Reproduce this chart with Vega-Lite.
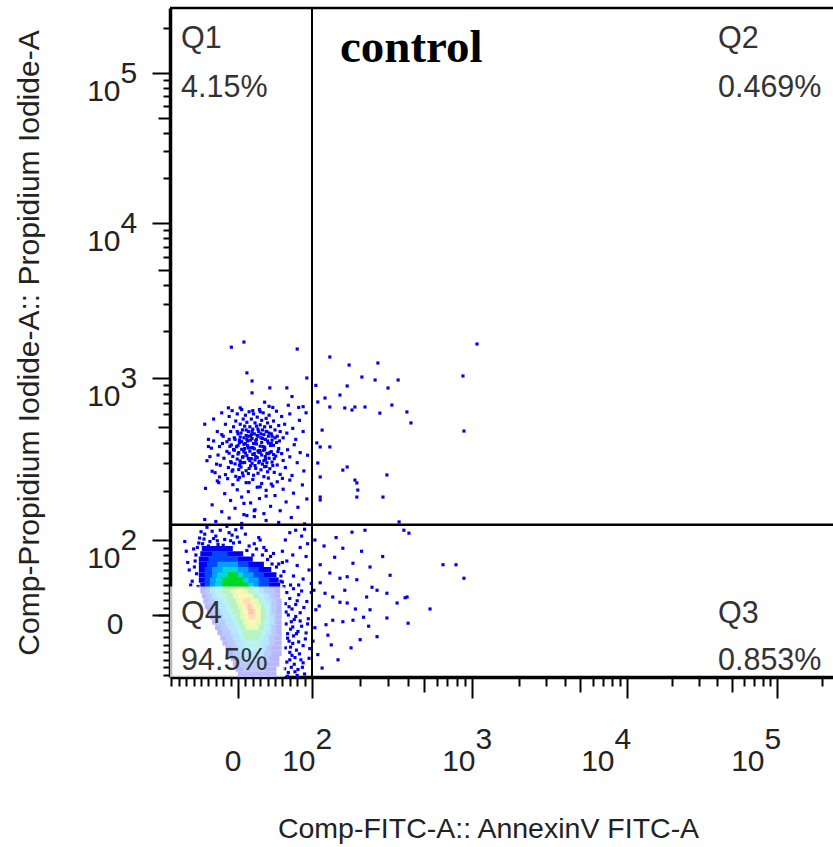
{
  "$schema": "https://vega.github.io/schema/vega-lite/v6.json",
  "width": 663,
  "height": 669,
  "autosize": {"type": "none"},
  "padding": {"left": 170, "top": 8, "right": 0, "bottom": 170},
  "background": "white",
  "config": {
    "view": {"stroke": null},
    "font": "Liberation Sans",
    "axis": {
      "labelFont": "Liberation Sans",
      "labelFontSize": 30,
      "labelColor": "#222222",
      "tickColor": "black",
      "tickWidth": 2,
      "grid": false,
      "domain": false,
      "labelOverlap": false,
      "labelFlush": false,
      "labelBound": false,
      "tickCount": 200,
      "zindex": 1,
      "titleFont": "Liberation Sans",
      "titleFontWeight": "normal",
      "titleColor": "#222222"
    }
  },
  "resolve": {"axis": {"x": "independent", "y": "independent"}},
  "datasets": {
    "cells": [
      {"x": -49, "x2": -7, "y": 85, "y2": 92, "d": 1},
      {"x": -51, "x2": 7, "y": 78, "y2": 85, "d": 1},
      {"x": -53, "x2": 20, "y": 71, "y2": 78, "d": 1},
      {"x": -53, "x2": 35, "y": 64, "y2": 71, "d": 1},
      {"x": -53, "x2": 45, "y": 57, "y2": 64, "d": 1},
      {"x": -53, "x2": 52, "y": 50, "y2": 57, "d": 1},
      {"x": -53, "x2": 55, "y": 43, "y2": 50, "d": 1},
      {"x": -51, "x2": 57, "y": 36, "y2": 43, "d": 1},
      {"x": -51, "x2": 57, "y": 29, "y2": 36, "d": 1},
      {"x": -49, "x2": 57, "y": 22, "y2": 29, "d": 1},
      {"x": -47, "x2": 59, "y": 15, "y2": 22, "d": 1},
      {"x": -45, "x2": 59, "y": 8, "y2": 15, "d": 1},
      {"x": -42, "x2": 59, "y": 1, "y2": 8, "d": 1},
      {"x": -38, "x2": 59, "y": -6, "y2": 1, "d": 1},
      {"x": -35, "x2": 59, "y": -13, "y2": -6, "d": 1},
      {"x": -31, "x2": 59, "y": -20, "y2": -13, "d": 1},
      {"x": -28, "x2": 59, "y": -27, "y2": -20, "d": 1},
      {"x": -24, "x2": 59, "y": -34, "y2": -27, "d": 1},
      {"x": -21, "x2": 59, "y": -41, "y2": -34, "d": 1},
      {"x": -17, "x2": 59, "y": -48, "y2": -41, "d": 1},
      {"x": -14, "x2": 59, "y": -55, "y2": -48, "d": 1},
      {"x": -10, "x2": 56, "y": -62, "y2": -55, "d": 1},
      {"x": -7, "x2": 56, "y": -69, "y2": -62, "d": 1},
      {"x": -3, "x2": 52, "y": -76, "y2": -69, "d": 1},
      {"x": 0, "x2": 52, "y": -83, "y2": -76, "d": 1},
      {"x": -35, "x2": -14, "y": 78, "y2": 85, "d": 2},
      {"x": -40, "x2": 0, "y": 71, "y2": 78, "d": 2},
      {"x": -42, "x2": 14, "y": 64, "y2": 71, "d": 2},
      {"x": -45, "x2": 28, "y": 57, "y2": 64, "d": 2},
      {"x": -45, "x2": 35, "y": 50, "y2": 57, "d": 2},
      {"x": -45, "x2": 42, "y": 43, "y2": 50, "d": 2},
      {"x": -45, "x2": 42, "y": 36, "y2": 43, "d": 2},
      {"x": -45, "x2": 49, "y": 29, "y2": 36, "d": 2},
      {"x": -42, "x2": 49, "y": 22, "y2": 29, "d": 2},
      {"x": -40, "x2": 52, "y": 15, "y2": 22, "d": 2},
      {"x": -38, "x2": 52, "y": 8, "y2": 15, "d": 2},
      {"x": -35, "x2": 52, "y": 1, "y2": 8, "d": 2},
      {"x": -31, "x2": 52, "y": -6, "y2": 1, "d": 2},
      {"x": -28, "x2": 52, "y": -13, "y2": -6, "d": 2},
      {"x": -24, "x2": 52, "y": -20, "y2": -13, "d": 2},
      {"x": -21, "x2": 52, "y": -27, "y2": -20, "d": 2},
      {"x": -17, "x2": 49, "y": -34, "y2": -27, "d": 2},
      {"x": -14, "x2": 49, "y": -41, "y2": -34, "d": 2},
      {"x": -10, "x2": 45, "y": -48, "y2": -41, "d": 2},
      {"x": -7, "x2": 45, "y": -55, "y2": -48, "d": 2},
      {"x": -3, "x2": 42, "y": -62, "y2": -55, "d": 2},
      {"x": 0, "x2": 38, "y": -69, "y2": -62, "d": 2},
      {"x": 7, "x2": 35, "y": -76, "y2": -69, "d": 2},
      {"x": -28, "x2": 0, "y": 64, "y2": 71, "d": 3},
      {"x": -35, "x2": 14, "y": 57, "y2": 64, "d": 3},
      {"x": -35, "x2": 21, "y": 50, "y2": 57, "d": 3},
      {"x": -38, "x2": 28, "y": 43, "y2": 50, "d": 3},
      {"x": -38, "x2": 28, "y": 36, "y2": 43, "d": 3},
      {"x": -38, "x2": 35, "y": 29, "y2": 36, "d": 3},
      {"x": -35, "x2": 42, "y": 22, "y2": 29, "d": 3},
      {"x": -31, "x2": 45, "y": 15, "y2": 22, "d": 3},
      {"x": -28, "x2": 45, "y": 8, "y2": 15, "d": 3},
      {"x": -24, "x2": 45, "y": 1, "y2": 8, "d": 3},
      {"x": -21, "x2": 49, "y": -6, "y2": 1, "d": 3},
      {"x": -17, "x2": 49, "y": -13, "y2": -6, "d": 3},
      {"x": -14, "x2": 45, "y": -20, "y2": -13, "d": 3},
      {"x": -10, "x2": 45, "y": -27, "y2": -20, "d": 3},
      {"x": -7, "x2": 42, "y": -34, "y2": -27, "d": 3},
      {"x": -3, "x2": 42, "y": -41, "y2": -34, "d": 3},
      {"x": 0, "x2": 38, "y": -48, "y2": -41, "d": 3},
      {"x": 3, "x2": 35, "y": -55, "y2": -48, "d": 3},
      {"x": 7, "x2": 31, "y": -62, "y2": -55, "d": 3},
      {"x": -21, "x2": 0, "y": 57, "y2": 64, "d": 4},
      {"x": -28, "x2": 7, "y": 50, "y2": 57, "d": 4},
      {"x": -30, "x2": 14, "y": 43, "y2": 50, "d": 4},
      {"x": -31, "x2": 21, "y": 36, "y2": 43, "d": 4},
      {"x": -31, "x2": 28, "y": 29, "y2": 36, "d": 4},
      {"x": -28, "x2": 35, "y": 22, "y2": 29, "d": 4},
      {"x": -21, "x2": 38, "y": 15, "y2": 22, "d": 4},
      {"x": -17, "x2": 42, "y": 8, "y2": 15, "d": 4},
      {"x": -14, "x2": 42, "y": 1, "y2": 8, "d": 4},
      {"x": -10, "x2": 42, "y": -6, "y2": 1, "d": 4},
      {"x": -7, "x2": 42, "y": -13, "y2": -6, "d": 4},
      {"x": -3, "x2": 42, "y": -20, "y2": -13, "d": 4},
      {"x": 0, "x2": 38, "y": -27, "y2": -20, "d": 4},
      {"x": 3, "x2": 35, "y": -34, "y2": -27, "d": 4},
      {"x": 7, "x2": 31, "y": -41, "y2": -34, "d": 4},
      {"x": 10, "x2": 28, "y": -48, "y2": -41, "d": 4},
      {"x": -14, "x2": 0, "y": 50, "y2": 57, "d": 5},
      {"x": -21, "x2": 7, "y": 43, "y2": 50, "d": 5},
      {"x": -21, "x2": 14, "y": 36, "y2": 43, "d": 5},
      {"x": -21, "x2": 21, "y": 29, "y2": 36, "d": 5},
      {"x": -17, "x2": 28, "y": 22, "y2": 29, "d": 5},
      {"x": -14, "x2": 31, "y": 15, "y2": 22, "d": 5},
      {"x": -10, "x2": 35, "y": 8, "y2": 15, "d": 5},
      {"x": -7, "x2": 38, "y": 1, "y2": 8, "d": 5},
      {"x": -3, "x2": 38, "y": -6, "y2": 1, "d": 5},
      {"x": 0, "x2": 35, "y": -13, "y2": -6, "d": 5},
      {"x": 3, "x2": 35, "y": -20, "y2": -13, "d": 5},
      {"x": 7, "x2": 31, "y": -27, "y2": -20, "d": 5},
      {"x": 10, "x2": 28, "y": -34, "y2": -27, "d": 5},
      {"x": -10, "x2": 14, "y": 29, "y2": 36, "d": 6},
      {"x": -7, "x2": 21, "y": 22, "y2": 29, "d": 6},
      {"x": -3, "x2": 28, "y": 15, "y2": 22, "d": 6},
      {"x": 0, "x2": 31, "y": 8, "y2": 15, "d": 6},
      {"x": 3, "x2": 31, "y": 1, "y2": 8, "d": 6},
      {"x": 3, "x2": 31, "y": -6, "y2": 1, "d": 6},
      {"x": 7, "x2": 31, "y": -13, "y2": -6, "d": 6},
      {"x": 10, "x2": 28, "y": -20, "y2": -13, "d": 6},
      {"x": -3, "x2": 7, "y": 29, "y2": 36, "d": 7},
      {"x": 0, "x2": 14, "y": 22, "y2": 29, "d": 7},
      {"x": 3, "x2": 21, "y": 15, "y2": 22, "d": 7},
      {"x": 7, "x2": 24, "y": 8, "y2": 15, "d": 7},
      {"x": 7, "x2": 28, "y": 1, "y2": 8, "d": 7},
      {"x": 10, "x2": 28, "y": -6, "y2": 1, "d": 7},
      {"x": 14, "x2": 24, "y": -13, "y2": -6, "d": 7},
      {"x": 7, "x2": 17, "y": 15, "y2": 22, "d": 8},
      {"x": 10, "x2": 21, "y": 8, "y2": 15, "d": 8},
      {"x": 14, "x2": 24, "y": 1, "y2": 8, "d": 8},
      {"x": 14, "x2": 24, "y": -6, "y2": 1, "d": 8},
      {"x": 14, "x2": 17, "y": 8, "y2": 15, "d": 9},
      {"x": 14, "x2": 21, "y": 1, "y2": 8, "d": 9}
    ],
    "events": [
      {"x": -9, "y": 1660}, {"x": 8, "y": 1770}, {"x": 80, "y": 1620}, {"x": 93, "y": 1000}, {"x": 12, "y": 1110},
      {"x": 19, "y": 960}, {"x": 19, "y": 810}, {"x": 43, "y": 870}, {"x": 66, "y": 870}, {"x": 73, "y": 770},
      {"x": 36, "y": 710}, {"x": 42, "y": 670}, {"x": 68, "y": 680}, {"x": 82, "y": 660}, {"x": -13, "y": 656},
      {"x": 3, "y": 656}, {"x": 20, "y": 630}, {"x": 30, "y": 620}, {"x": 47, "y": 660}, {"x": 88, "y": 667},
      {"x": -40, "y": 420}, {"x": -33, "y": 560}, {"x": -28, "y": 470}, {"x": -22, "y": 610}, {"x": -20, "y": 440},
      {"x": -17, "y": 520}, {"x": -15, "y": 405}, {"x": -12, "y": 580}, {"x": -10, "y": 470}, {"x": -8, "y": 630},
      {"x": -6, "y": 500}, {"x": -5, "y": 430}, {"x": -3, "y": 545}, {"x": -1, "y": 600}, {"x": 0, "y": 455},
      {"x": 2, "y": 415}, {"x": 3, "y": 520}, {"x": 5, "y": 640}, {"x": 6, "y": 480}, {"x": 7, "y": 560},
      {"x": 8, "y": 430}, {"x": 9, "y": 505}, {"x": 10, "y": 590}, {"x": 11, "y": 445}, {"x": 12, "y": 535},
      {"x": 13, "y": 410}, {"x": 14, "y": 470}, {"x": 15, "y": 620}, {"x": 16, "y": 500}, {"x": 17, "y": 440},
      {"x": 18, "y": 560}, {"x": 19, "y": 425}, {"x": 20, "y": 485}, {"x": 21, "y": 600}, {"x": 22, "y": 455},
      {"x": 23, "y": 530}, {"x": 24, "y": 410}, {"x": 25, "y": 505}, {"x": 26, "y": 575}, {"x": 27, "y": 440},
      {"x": 28, "y": 470}, {"x": 29, "y": 640}, {"x": 30, "y": 515}, {"x": 31, "y": 430}, {"x": 32, "y": 550},
      {"x": 33, "y": 480}, {"x": 34, "y": 610}, {"x": 35, "y": 450}, {"x": 36, "y": 500}, {"x": 37, "y": 420},
      {"x": 38, "y": 565}, {"x": 39, "y": 470}, {"x": 40, "y": 530}, {"x": 41, "y": 440}, {"x": 42, "y": 590},
      {"x": 44, "y": 500}, {"x": 45, "y": 455}, {"x": 46, "y": 415}, {"x": 48, "y": 545}, {"x": 50, "y": 480},
      {"x": 52, "y": 625}, {"x": 53, "y": 440}, {"x": 55, "y": 510}, {"x": 57, "y": 470}, {"x": 59, "y": 580},
      {"x": 61, "y": 430}, {"x": 63, "y": 520}, {"x": 66, "y": 460}, {"x": 70, "y": 600}, {"x": 74, "y": 490},
      {"x": 78, "y": 420}, {"x": 83, "y": 550}, {"x": 88, "y": 470}, {"x": 92, "y": 610}, {"x": -45, "y": 520},
      {"x": -42, "y": 310}, {"x": -36, "y": 372}, {"x": -31, "y": 265}, {"x": -27, "y": 338}, {"x": -24, "y": 291},
      {"x": -21, "y": 395}, {"x": -19, "y": 322}, {"x": -17, "y": 258}, {"x": -15, "y": 356}, {"x": -13, "y": 283},
      {"x": -12, "y": 347}, {"x": -10, "y": 305}, {"x": -9, "y": 388}, {"x": -8, "y": 270}, {"x": -7, "y": 331},
      {"x": -5, "y": 362}, {"x": -4, "y": 296}, {"x": -3, "y": 252}, {"x": -2, "y": 379}, {"x": -1, "y": 318},
      {"x": 0, "y": 343}, {"x": 1, "y": 276}, {"x": 2, "y": 399}, {"x": 3, "y": 309}, {"x": 4, "y": 285},
      {"x": 5, "y": 366}, {"x": 6, "y": 327}, {"x": 7, "y": 254}, {"x": 8, "y": 391}, {"x": 9, "y": 301},
      {"x": 10, "y": 348}, {"x": 11, "y": 272}, {"x": 12, "y": 335}, {"x": 13, "y": 384}, {"x": 14, "y": 262},
      {"x": 15, "y": 319}, {"x": 16, "y": 357}, {"x": 17, "y": 289}, {"x": 18, "y": 374}, {"x": 19, "y": 298},
      {"x": 20, "y": 341}, {"x": 21, "y": 256}, {"x": 22, "y": 369}, {"x": 23, "y": 314}, {"x": 24, "y": 280},
      {"x": 25, "y": 393}, {"x": 26, "y": 326}, {"x": 27, "y": 263}, {"x": 28, "y": 352}, {"x": 29, "y": 307},
      {"x": 30, "y": 382}, {"x": 31, "y": 275}, {"x": 32, "y": 338}, {"x": 33, "y": 295}, {"x": 34, "y": 361},
      {"x": 35, "y": 251}, {"x": 36, "y": 376}, {"x": 37, "y": 316}, {"x": 38, "y": 287}, {"x": 39, "y": 346},
      {"x": 40, "y": 268}, {"x": 41, "y": 397}, {"x": 42, "y": 322}, {"x": 43, "y": 279}, {"x": 45, "y": 355},
      {"x": 46, "y": 303}, {"x": 48, "y": 386}, {"x": 49, "y": 266}, {"x": 51, "y": 333}, {"x": 53, "y": 292},
      {"x": 55, "y": 370}, {"x": 57, "y": 259}, {"x": 59, "y": 345}, {"x": 61, "y": 311}, {"x": 64, "y": 283},
      {"x": 67, "y": 364}, {"x": 70, "y": 329}, {"x": 73, "y": 255}, {"x": 76, "y": 389}, {"x": 80, "y": 300},
      {"x": 84, "y": 350}, {"x": 89, "y": 271}, {"x": 94, "y": 337}, {"x": -11, "y": 381}, {"x": 6, "y": 264},
      {"x": 18, "y": 320}, {"x": 27, "y": 358}, {"x": 36, "y": 286}, {"x": 14, "y": 373}, {"x": 3, "y": 299},
      {"x": -9, "y": 300}, {"x": -4, "y": 420}, {"x": 1, "y": 350}, {"x": 4, "y": 460}, {"x": 7, "y": 330},
      {"x": 10, "y": 395}, {"x": 13, "y": 440}, {"x": 16, "y": 310}, {"x": 19, "y": 470}, {"x": 22, "y": 345},
      {"x": 25, "y": 420}, {"x": 28, "y": 300}, {"x": 31, "y": 455}, {"x": 34, "y": 380}, {"x": 37, "y": 330},
      {"x": 40, "y": 410}, {"x": 43, "y": 350}, {"x": 46, "y": 440}, {"x": 49, "y": 320}, {"x": 52, "y": 400},
      {"x": -6, "y": 365}, {"x": -1, "y": 470}, {"x": 2, "y": 290}, {"x": 5, "y": 405}, {"x": 8, "y": 355},
      {"x": 11, "y": 480}, {"x": 14, "y": 320}, {"x": 17, "y": 415}, {"x": 20, "y": 375}, {"x": 23, "y": 290},
      {"x": 26, "y": 445}, {"x": 29, "y": 360}, {"x": 32, "y": 400}, {"x": 35, "y": 310}, {"x": 38, "y": 470},
      {"x": 41, "y": 345}, {"x": 44, "y": 385}, {"x": 47, "y": 290}, {"x": 50, "y": 430}, {"x": 54, "y": 355},
      {"x": -12, "y": 420}, {"x": -7, "y": 275}, {"x": 0, "y": 385}, {"x": 3, "y": 435}, {"x": 6, "y": 300},
      {"x": 9, "y": 370}, {"x": 12, "y": 420}, {"x": 15, "y": 280}, {"x": 18, "y": 450}, {"x": 21, "y": 395},
      {"x": 24, "y": 330}, {"x": 27, "y": 485}, {"x": 30, "y": 350}, {"x": 33, "y": 425}, {"x": 36, "y": 365},
      {"x": 39, "y": 300}, {"x": 42, "y": 460}, {"x": 45, "y": 395}, {"x": 48, "y": 340}, {"x": 56, "y": 410},
      {"x": -38, "y": 330}, {"x": -33, "y": 410}, {"x": -29, "y": 295}, {"x": -25, "y": 380}, {"x": -22, "y": 450},
      {"x": -35, "y": 270}, {"x": -26, "y": 230}, {"x": -40, "y": 380},
      {"x": -44, "y": 210}, {"x": -35, "y": 172}, {"x": -28, "y": 236}, {"x": -22, "y": 158}, {"x": -18, "y": 195},
      {"x": -14, "y": 244}, {"x": -10, "y": 181}, {"x": -7, "y": 223}, {"x": -4, "y": 165}, {"x": -1, "y": 205},
      {"x": 2, "y": 248}, {"x": 5, "y": 188}, {"x": 8, "y": 152}, {"x": 11, "y": 230}, {"x": 14, "y": 199},
      {"x": 17, "y": 176}, {"x": 20, "y": 241}, {"x": 23, "y": 162}, {"x": 26, "y": 214}, {"x": 29, "y": 185},
      {"x": 32, "y": 227}, {"x": 35, "y": 154}, {"x": 38, "y": 203}, {"x": 41, "y": 246}, {"x": 44, "y": 169},
      {"x": 47, "y": 218}, {"x": 50, "y": 191}, {"x": 53, "y": 233}, {"x": 57, "y": 160}, {"x": 61, "y": 207},
      {"x": 65, "y": 178}, {"x": 70, "y": 239}, {"x": 75, "y": 196}, {"x": 81, "y": 167}, {"x": 87, "y": 222},
      {"x": 93, "y": 184}, {"x": -25, "y": 250}, {"x": 0, "y": 240}, {"x": 15, "y": 230}, {"x": 30, "y": 215},
      {"x": 45, "y": 225}, {"x": 60, "y": 245}, {"x": 8, "y": 175}, {"x": 22, "y": 160}, {"x": 38, "y": 190},
      {"x": -30, "y": 138}, {"x": -12, "y": 145}, {"x": 5, "y": 134}, {"x": 22, "y": 148}, {"x": 38, "y": 140},
      {"x": 55, "y": 136}, {"x": 72, "y": 146}, {"x": 90, "y": 133}, {"x": -45, "y": 142}, {"x": 12, "y": 150},
      {"x": 137, "y": 1450}, {"x": 177, "y": 1278}, {"x": 263, "y": 1321}, {"x": 206, "y": 1021}, {"x": 253, "y": 973},
      {"x": 349, "y": 973}, {"x": 173, "y": 893}, {"x": 299, "y": 869}, {"x": 318, "y": 682}, {"x": 112, "y": 712},
      {"x": 127, "y": 754}, {"x": 137, "y": 664}, {"x": 168, "y": 655}, {"x": 189, "y": 664}, {"x": 217, "y": 664},
      {"x": 270, "y": 607}, {"x": 1107, "y": 1728}, {"x": 879, "y": 1043}, {"x": 891, "y": 473}, {"x": 417, "y": 530},
      {"x": 393, "y": 618}, {"x": 189, "y": 239}, {"x": 195, "y": 204}, {"x": 164, "y": 274}, {"x": 117, "y": 378},
      {"x": 112, "y": 299}, {"x": 117, "y": 182}, {"x": 354, "y": 137}, {"x": 117, "y": 250}, {"x": 117, "y": 188},
      {"x": 173, "y": 285}, {"x": 193, "y": 229}, {"x": 193, "y": 188}, {"x": 281, "y": 188}, {"x": 295, "y": 257},
      {"x": 110, "y": 398}, {"x": 137, "y": 378}, {"x": 158, "y": 786}, {"x": 183, "y": 636}, {"x": 108, "y": 900},
      {"x": 121, "y": 479},
      {"x": 183, "y": 116}, {"x": 217, "y": 120}, {"x": 404, "y": 114}, {"x": 164, "y": 89}, {"x": 147, "y": 77},
      {"x": 185, "y": 69}, {"x": 235, "y": 64}, {"x": 117, "y": 67}, {"x": 137, "y": 56}, {"x": 158, "y": 49},
      {"x": 173, "y": 51}, {"x": 193, "y": 47}, {"x": 242, "y": 37}, {"x": 260, "y": 33}, {"x": 295, "y": 29},
      {"x": 344, "y": 16}, {"x": 394, "y": 24}, {"x": 117, "y": 43}, {"x": 127, "y": 29}, {"x": 143, "y": 24},
      {"x": 158, "y": 17}, {"x": 173, "y": 16}, {"x": 223, "y": 24}, {"x": 185, "y": -7}, {"x": 164, "y": -9},
      {"x": 143, "y": -7}, {"x": 212, "y": -3}, {"x": 295, "y": -4}, {"x": 260, "y": -29}, {"x": 133, "y": -27},
      {"x": 181, "y": -44}, {"x": 399, "y": -11}, {"x": 384, "y": 23}, {"x": 549, "y": 8}, {"x": 661, "y": 67},
      {"x": 795, "y": 67}, {"x": 891, "y": 49}, {"x": 378, "y": 120}, {"x": 106, "y": 100}, {"x": 108, "y": 7},
      {"x": 112, "y": -53}, {"x": 121, "y": -71}, {"x": 104, "y": 33}, {"x": 129, "y": -13}, {"x": 154, "y": -60},
      {"x": 168, "y": 33}, {"x": 200, "y": -33}, {"x": 235, "y": 7}, {"x": 309, "y": 53}, {"x": 106, "y": -17},
      {"x": 125, "y": 92}, {"x": 150, "y": 105}, {"x": 205, "y": 85}, {"x": 280, "y": 78}, {"x": 140, "y": -40},
      {"x": 230, "y": -15}, {"x": 115, "y": 12}, {"x": 102, "y": -35}, {"x": 190, "y": 8},
      {"x": 66, "y": 30}, {"x": 70, "y": 22}, {"x": 64, "y": 15}, {"x": 73, "y": 8}, {"x": 68, "y": 0},
      {"x": 76, "y": -6}, {"x": 65, "y": -12}, {"x": 71, "y": -19}, {"x": 79, "y": -25}, {"x": 67, "y": -31},
      {"x": 74, "y": -38}, {"x": 64, "y": -44}, {"x": 70, "y": -50}, {"x": 77, "y": -57}, {"x": 66, "y": -63},
      {"x": 72, "y": -70}, {"x": 68, "y": -77}, {"x": 80, "y": -81}, {"x": 75, "y": 35}, {"x": 82, "y": 27},
      {"x": 69, "y": 11}, {"x": 84, "y": 3}, {"x": 78, "y": -2}, {"x": 72, "y": -9}, {"x": 86, "y": -15},
      {"x": 81, "y": -22}, {"x": 75, "y": -28}, {"x": 69, "y": -35}, {"x": 88, "y": -41}, {"x": 79, "y": -47},
      {"x": 73, "y": -54}, {"x": 85, "y": -60}, {"x": 76, "y": -66}, {"x": 81, "y": -73}, {"x": 90, "y": -79},
      {"x": 67, "y": -82}, {"x": 93, "y": 18}, {"x": 95, "y": -5}, {"x": 91, "y": -32}, {"x": 96, "y": -58},
      {"x": 89, "y": 10}, {"x": 92, "y": -24}, {"x": 97, "y": -45}, {"x": 87, "y": -70}, {"x": 99, "y": 30},
      {"x": 83, "y": -52}, {"x": 78, "y": 14}, {"x": 65, "y": 4}, {"x": 74, "y": -16}, {"x": 71, "y": -43},
      {"x": 82, "y": -36}, {"x": 88, "y": -64}, {"x": 63, "y": -72}, {"x": 86, "y": 32}, {"x": 94, "y": -12},
      {"x": 77, "y": -76}, {"x": 70, "y": -60}, {"x": 80, "y": 19}, {"x": 67, "y": -25}, {"x": 84, "y": -8},
      {"x": 58, "y": 45}, {"x": 62, "y": 58}, {"x": 66, "y": 72}, {"x": 71, "y": 40}, {"x": 75, "y": 52},
      {"x": 80, "y": 66}, {"x": 84, "y": 90}, {"x": 88, "y": 48}, {"x": 92, "y": 78}, {"x": 96, "y": 60},
      {"x": 64, "y": 100}, {"x": 70, "y": 115}, {"x": 78, "y": 120}, {"x": 86, "y": 108}, {"x": 94, "y": 95},
      {"x": 99, "y": 42}, {"x": 60, "y": 85}, {"x": 74, "y": 80}, {"x": 82, "y": 40}, {"x": 90, "y": 122},
      {"x": -52, "y": 104}, {"x": -45, "y": 112}, {"x": -38, "y": 98}, {"x": -30, "y": 108}, {"x": -24, "y": 120},
      {"x": -18, "y": 101}, {"x": -12, "y": 115}, {"x": -6, "y": 96}, {"x": -1, "y": 106}, {"x": 5, "y": 125},
      {"x": -48, "y": 95}, {"x": -35, "y": 118}, {"x": -27, "y": 94}, {"x": -15, "y": 128}, {"x": -8, "y": 110},
      {"x": -42, "y": 126}, {"x": -55, "y": 90}, {"x": -20, "y": 93}, {"x": 2, "y": 97}, {"x": 10, "y": 112},
      {"x": -33, "y": 103}, {"x": -50, "y": 117}, {"x": -3, "y": 121}, {"x": -10, "y": 99}, {"x": -40, "y": 92},
      {"x": 25, "y": 88}, {"x": 33, "y": 80}, {"x": 40, "y": 74}, {"x": 46, "y": 68}, {"x": 52, "y": 64},
      {"x": 58, "y": 52}, {"x": 60, "y": 44}, {"x": 35, "y": 90}, {"x": 22, "y": 95}, {"x": 48, "y": 82},
      {"x": 60, "y": 70}, {"x": 44, "y": 78}, {"x": 62, "y": 38}, {"x": 30, "y": 100}, {"x": 15, "y": 92},
      {"x": 55, "y": 68}, {"x": 38, "y": 86}, {"x": 28, "y": 105}, {"x": 12, "y": 86}, {"x": 20, "y": 80},
      {"x": -70, "y": 85}, {"x": -66, "y": 60}, {"x": -62, "y": 45}, {"x": -58, "y": 72}, {"x": -72, "y": 98},
      {"x": -60, "y": 88}, {"x": -56, "y": 55}, {"x": -64, "y": 40}, {"x": -68, "y": 70}, {"x": -54, "y": 38},
      {"x": -57, "y": 80}, {"x": -59, "y": 64}, {"x": -53, "y": 96}, {"x": -46, "y": 102}, {"x": -28, "y": 99}
    ],
    "quadrants": [
      {"name": "Q1", "share": "4.15%", "x": -77, "yn": 155300, "ys": 69200},
      {"name": "Q2", "share": "0.469%", "x": 40480, "yn": 155300, "ys": 69200},
      {"name": "Q3", "share": "0.853%", "x": 40480, "yn": -11, "ys": -74},
      {"name": "Q4", "share": "94.5%", "x": -77, "yn": -11, "ys": -74}
    ]
  },
  "layer": [
    {
      "data": {"name": "cells"},
      "mark": {"type": "rect"},
      "encoding": {
        "x": {
          "field": "x",
          "type": "quantitative",
          "scale": {
            "domain": [-92, 0, 100, 200, 300, 400, 500, 600, 700, 800, 900, 1000, 2000, 3000, 4000, 5000, 6000, 7000, 8000, 9000, 10000, 20000, 30000, 40000, 50000, 60000, 70000, 80000, 90000, 100000, 200000, 262144],
            "range": [0, 68, 142, 190.2, 218.3, 238.3, 253.8, 266.5, 277.2, 286.5, 294.7, 302, 348.7, 375.9, 395.3, 410.3, 422.6, 433, 442, 449.9, 457, 502.2, 528.6, 547.3, 561.8, 573.7, 583.8, 592.5, 600.1, 607, 652.2, 670],
            "nice": false,
            "zero": false
          },
          "axis": {
            "orient": "bottom",
            "title": "Comp-FITC-A:: AnnexinV FITC-A",
            "titleFontSize": 28.5,
            "titleX": 318,
            "titlePadding": 38,
            "values": [0, 100, 1000],
            "labelExpr": "datum.value === 0 ? '0' : '10'",
            "labelAlign": "right",
            "labelBaseline": "top",
            "labelOffset": 3,
            "labelPadding": 48,
            "tickSize": 21,
            "domain": true,
            "domainColor": "black",
            "domainWidth": 3.5
          }
        },
        "x2": {"field": "x2"},
        "y": {
          "field": "y",
          "type": "quantitative",
          "scale": {
            "domain": [-83, 0, 100, 200, 300, 400, 500, 600, 700, 800, 900, 1000, 2000, 3000, 4000, 5000, 6000, 7000, 8000, 9000, 10000, 20000, 30000, 40000, 50000, 60000, 70000, 80000, 90000, 100000, 200000, 270000],
            "range": [669, 607, 532, 483.2, 454.7, 434.5, 418.8, 405.9, 395.1, 385.7, 377.4, 370, 323.3, 296.1, 276.7, 261.7, 249.4, 239, 230, 222.1, 215, 169.8, 143.4, 124.7, 110.2, 98.3, 88.2, 79.5, 71.9, 65, 19.8, 0],
            "nice": false,
            "zero": false
          },
          "axis": {
            "orient": "left",
            "title": "Comp-Propidium Iodide-A:: Propidium Iodide-A",
            "titleFontSize": 30,
            "titlePadding": 42,
            "values": [0, 100, 1000, 10000, 100000],
            "labelExpr": "datum.value === 0 ? '' : '10'",
            "labelAlign": "right",
            "labelBaseline": "middle",
            "labelOffset": 18,
            "labelPadding": 32,
            "tickSize": 18,
            "domain": true,
            "domainColor": "black",
            "domainWidth": 3.5
          }
        },
        "y2": {"field": "y2"},
        "color": {
          "field": "d",
          "type": "ordinal",
          "scale": {
            "domain": [1, 2, 3, 4, 5, 6, 7, 8, 9],
            "range": ["#0000f0", "#0048ff", "#00a0ff", "#00d8d0", "#00d820", "#a0f000", "#ffe000", "#ff8800", "#ff2800"]
          },
          "legend": null
        },
        "order": {"field": "d", "type": "quantitative"}
      }
    },
    {
      "data": {"name": "events"},
      "mark": {"type": "square", "size": 10, "color": "#0000ee", "opacity": 1},
      "encoding": {
        "x": {
          "field": "x",
          "type": "quantitative",
          "axis": {
            "orient": "bottom",
            "title": null,
            "values": [10000, 100000],
            "labelExpr": "'10'",
            "labelAlign": "right",
            "labelBaseline": "top",
            "labelOffset": -13,
            "labelPadding": 48,
            "tickSize": 21
          }
        },
        "y": {
          "field": "y",
          "type": "quantitative",
          "axis": {
            "orient": "left",
            "title": null,
            "values": [100, 1000, 10000, 100000],
            "labelExpr": "datum.value === 100 ? '2' : datum.value === 1000 ? '3' : datum.value === 10000 ? '4' : '5'",
            "ticks": false,
            "tickSize": 0,
            "labelAlign": "left",
            "labelBaseline": "middle",
            "labelOffset": 0,
            "labelPadding": 50
          }
        }
      }
    },
    {
      "data": {"values": [{"x": -92, "x2": 63, "y": -83, "y2": 38}]},
      "mark": {"type": "rect", "fill": "white", "fillOpacity": 0.72},
      "encoding": {
        "x": {
          "field": "x",
          "type": "quantitative",
          "axis": {
            "orient": "bottom",
            "title": null,
            "values": [100, 1000],
            "labelExpr": "datum.value === 100 ? '2' : '3'",
            "ticks": false,
            "tickSize": 0,
            "labelAlign": "left",
            "labelBaseline": "top",
            "labelOffset": 3,
            "labelPadding": 47
          }
        },
        "x2": {"field": "x2"},
        "y": {
          "field": "y",
          "type": "quantitative",
          "axis": {
            "orient": "left",
            "title": null,
            "values": [-80, -70, -60, -50, -40, -30, -20, -10, 10, 20, 30, 40, 50, 60, 70, 80, 90, 200, 300, 400, 600, 700, 800, 900, 2000, 3000, 4000, 6000, 7000, 8000, 9000, 20000, 30000, 40000, 60000, 70000, 80000, 90000, 200000],
            "labels": false,
            "tickSize": 7
          }
        },
        "y2": {"field": "y2"}
      }
    },
    {
      "data": {"values": [{"x": 100}]},
      "mark": {"type": "rule", "color": "black", "strokeWidth": 2},
      "encoding": {
        "x": {
          "field": "x",
          "type": "quantitative",
          "axis": {
            "orient": "bottom",
            "title": null,
            "values": [10000, 100000],
            "labelExpr": "datum.value === 10000 ? '4' : '5'",
            "ticks": false,
            "tickSize": 0,
            "labelAlign": "left",
            "labelBaseline": "top",
            "labelOffset": -13,
            "labelPadding": 47
          }
        }
      }
    },
    {
      "data": {"values": [{"y": 131}, {"y": 270000}]},
      "mark": {"type": "rule", "color": "black", "strokeWidth": 2.5},
      "encoding": {
        "y": {
          "field": "y",
          "type": "quantitative",
          "axis": {
            "orient": "left",
            "title": null,
            "values": [0, 500, 5000, 50000],
            "labelExpr": "datum.value === 0 ? '0' : ''",
            "labelAlign": "right",
            "labelBaseline": "middle",
            "labelOffset": 9,
            "labelPadding": 35,
            "tickSize": 12
          }
        }
      }
    },
    {
      "data": {"name": "quadrants"},
      "mark": {"type": "text", "align": "left", "baseline": "alphabetic", "font": "Liberation Sans", "fontSize": 30.5, "color": "#333333"},
      "encoding": {
        "x": {
          "field": "x",
          "type": "quantitative",
          "axis": {
            "orient": "bottom",
            "title": null,
            "values": [-90, -80, -70, -60, -50, -40, -30, -20, -10, 10, 20, 30, 40, 50, 60, 70, 80, 90, 200, 300, 400, 600, 700, 800, 900, 2000, 3000, 4000, 6000, 7000, 8000, 9000, 20000, 30000, 40000, 60000, 70000, 80000, 90000, 200000],
            "labels": false,
            "tickSize": 9
          }
        },
        "y": {"field": "yn", "type": "quantitative", "axis": null},
        "text": {"field": "name"}
      }
    },
    {
      "data": {"name": "quadrants"},
      "mark": {"type": "text", "align": "left", "baseline": "alphabetic", "font": "Liberation Sans", "fontSize": 30.5, "color": "#333333"},
      "encoding": {
        "x": {
          "field": "x",
          "type": "quantitative",
          "axis": {
            "orient": "bottom",
            "title": null,
            "values": [500, 5000, 50000],
            "labels": false,
            "tickSize": 15
          }
        },
        "y": {"field": "ys", "type": "quantitative", "axis": null},
        "text": {"field": "share"}
      }
    },
    {
      "data": {"values": [{"label": "control", "x": 158, "y": 124300}]},
      "mark": {"type": "text", "align": "left", "baseline": "alphabetic", "font": "Liberation Serif", "fontWeight": "bold", "fontSize": 47, "color": "black"},
      "encoding": {
        "x": {"field": "x", "type": "quantitative", "axis": null},
        "y": {"field": "y", "type": "quantitative", "axis": null},
        "text": {"field": "label"}
      }
    }
  ]
}
